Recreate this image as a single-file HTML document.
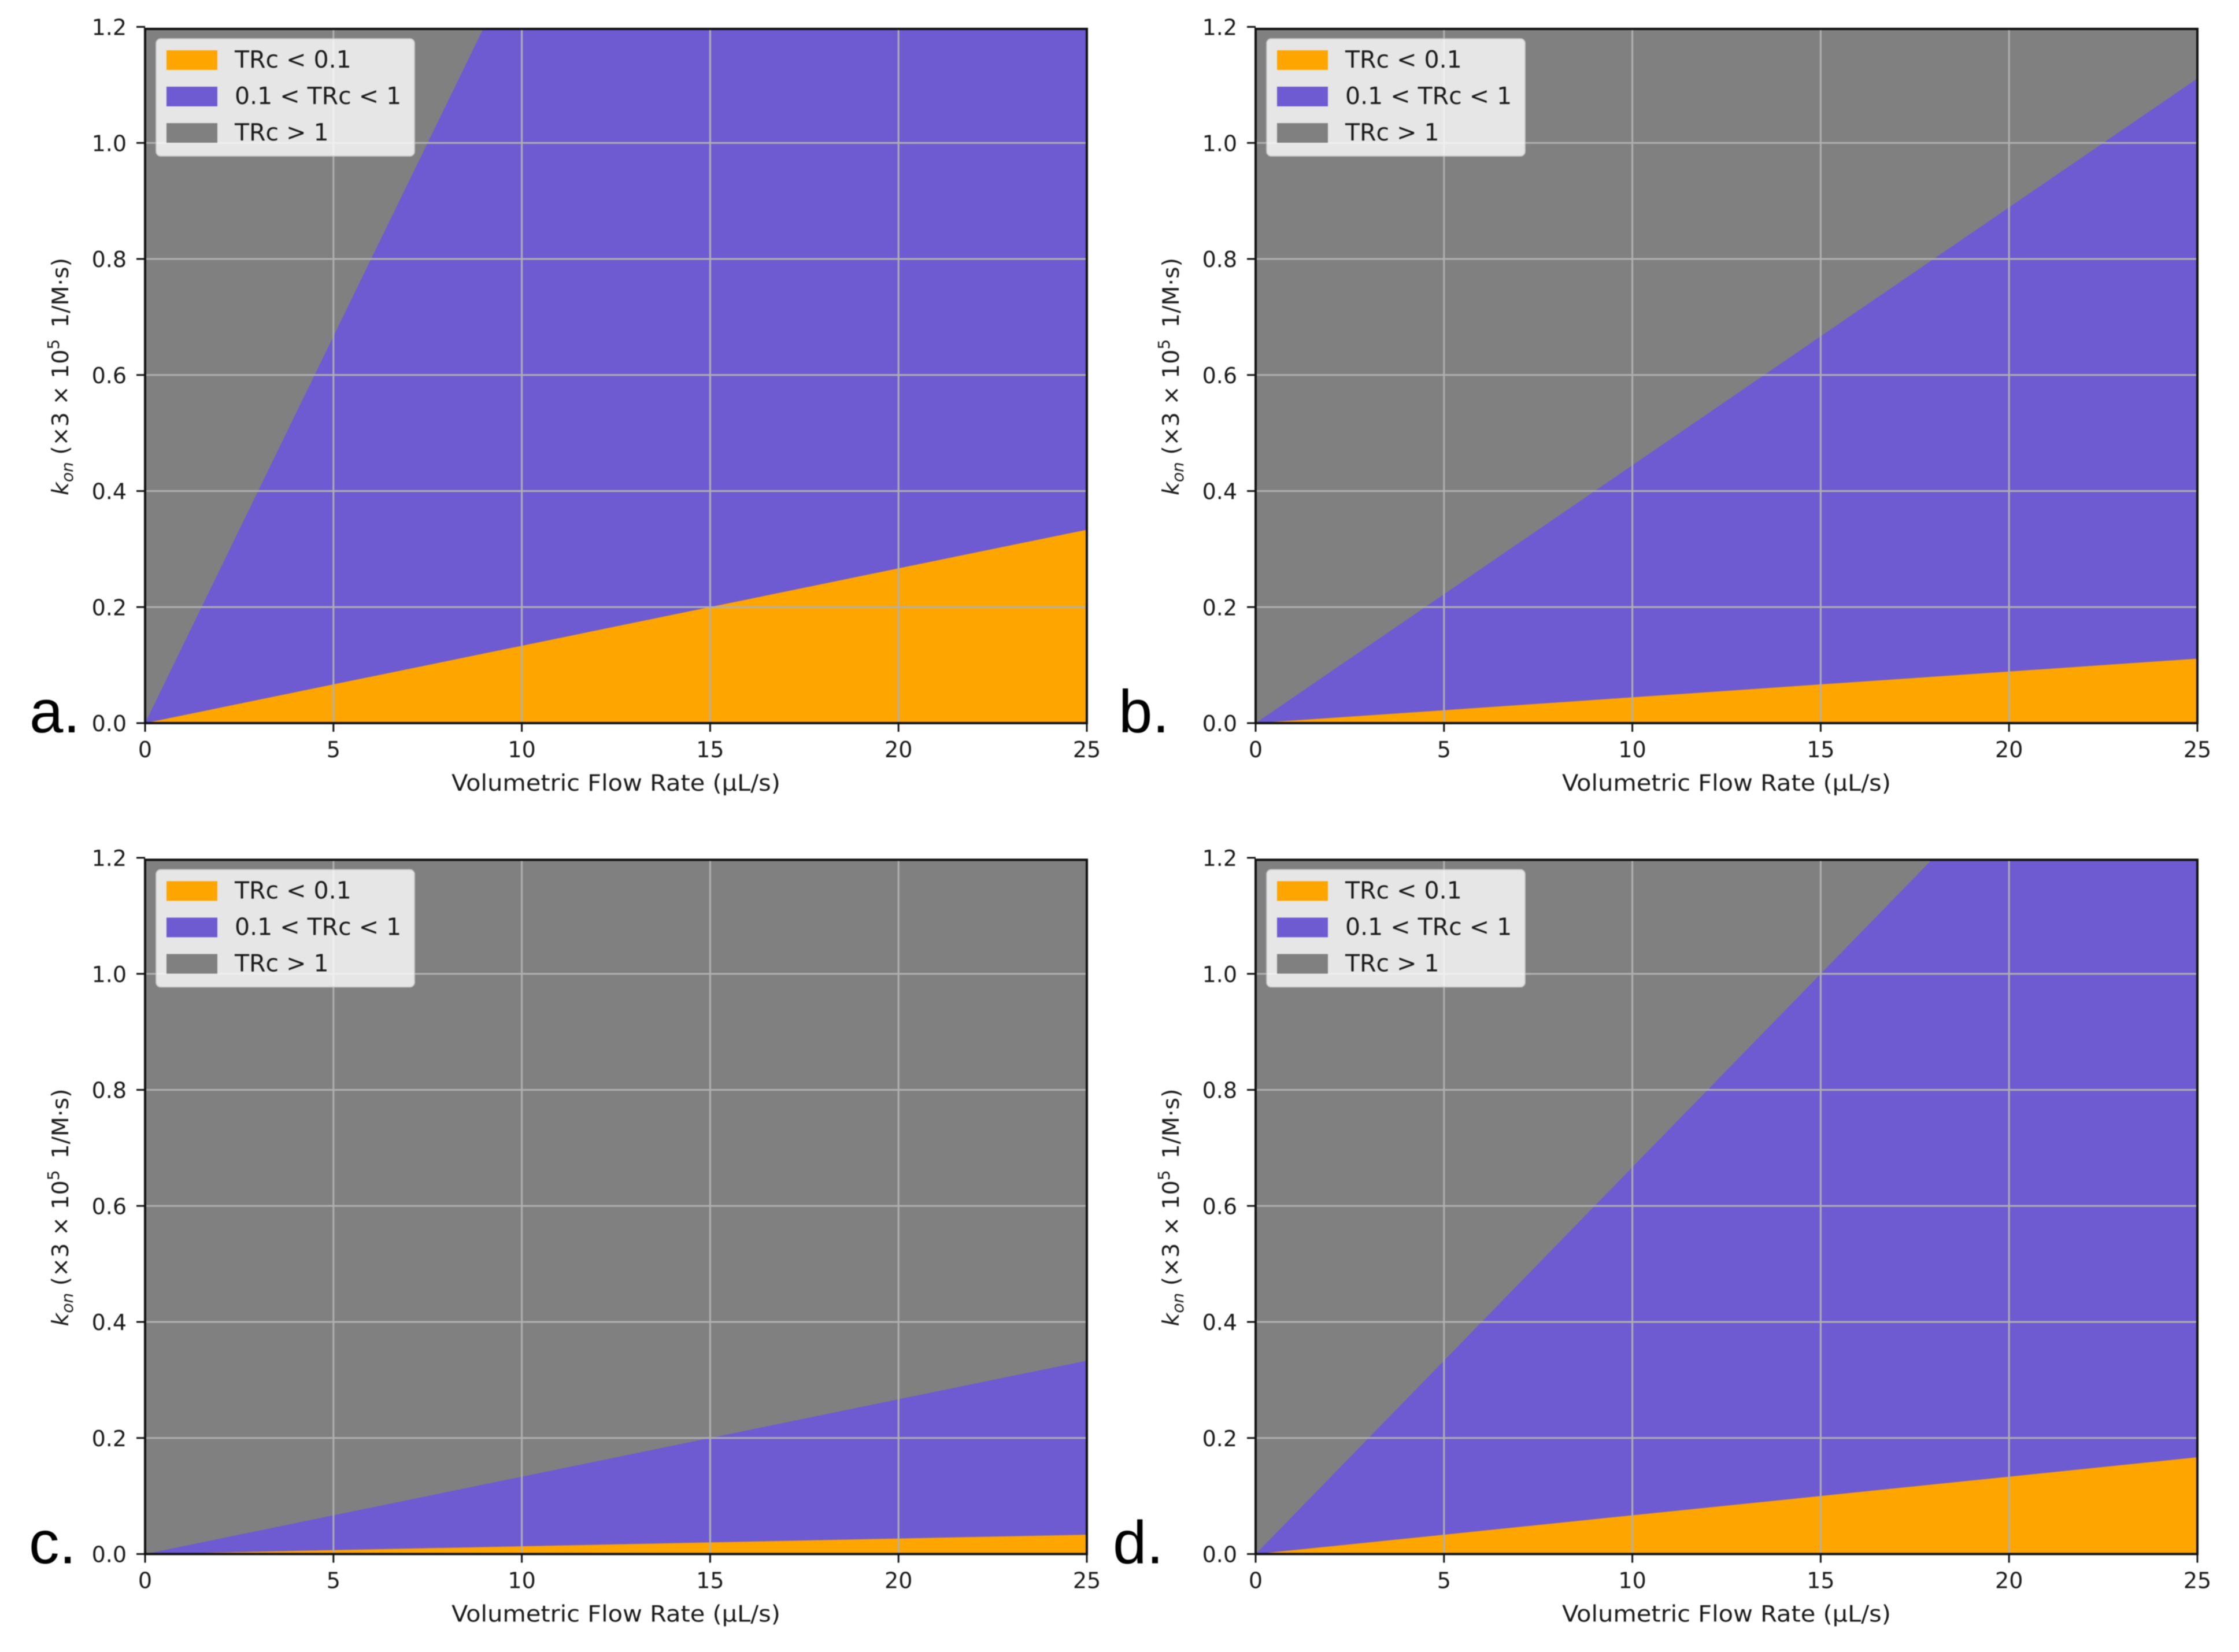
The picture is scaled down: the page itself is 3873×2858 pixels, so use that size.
<!DOCTYPE html>
<html lang="en">
<head>
<meta charset="utf-8">
<title>Transport regime maps: kon versus volumetric flow rate</title>
<style>
  html, body { margin: 0; padding: 0; background: #ffffff; }
  body { width: 3873px; height: 2858px; overflow: hidden; }
  #figure { display: block; filter: blur(0.9px); }
  text { font-family: "DejaVu Sans", "Liberation Sans", sans-serif; fill: #1a1a1a; }
  .panel-letter { font-family: "Liberation Sans", sans-serif; font-size: 105px; fill: #000000; }
</style>
</head>
<body>
<svg id="figure" xmlns="http://www.w3.org/2000/svg" width="3873" height="2858" viewBox="0 0 3873 2858"></svg>
<script>
// ---- chart data ----
const flowRates = [0, 5, 10, 15, 20, 25];
const xTickValues = [0, 5, 10, 15, 20, 25];
const yTickValues = [0, 0.2, 0.4, 0.6, 0.8, 1.0, 1.2];
const yTickLabels = ['0.0', '0.2', '0.4', '0.6', '0.8', '1.0', '1.2'];
const legendLabels = ['TRc < 0.1', '0.1 < TRc < 1', 'TRc > 1'];
const xAxisTitle = 'Volumetric Flow Rate (µL/s)';

const panelALower = [0, 0.0667, 0.1333, 0.2, 0.2667, 0.3333];
const panelAUpper = [0, 0.6667, 1.3333, 2.0, 2.6667, 3.3333];
const panelBLower = [0, 0.0222, 0.0444, 0.0667, 0.0889, 0.1111];
const panelBUpper = [0, 0.2222, 0.4444, 0.6667, 0.8889, 1.1111];
const panelCLower = [0, 0.0067, 0.0133, 0.02, 0.0267, 0.0333];
const panelCUpper = [0, 0.0667, 0.1333, 0.2, 0.2667, 0.3333];
const panelDLower = [0, 0.0333, 0.0667, 0.1, 0.1333, 0.1667];
const panelDUpper = [0, 0.3333, 0.6667, 1.0, 1.3333, 1.6667];

// ---- layout ----
const SVG_NS = 'http://www.w3.org/2000/svg';
const X_MAX = 25, Y_MAX = 1.2;
const PLOT_W = 1629, SCALE_H = 1204.5;
const ORANGE = '#ffa500', SLATE = '#6e5ad1', GRAY = '#808080', GRID = '#b0b0b0';
const figure = document.getElementById('figure');

function mk(parent, tag, attrs, text) {
  const el = document.createElementNS(SVG_NS, tag);
  for (const k in attrs) el.setAttribute(k, attrs[k]);
  if (text !== undefined) el.textContent = text;
  parent.appendChild(el);
  return el;
}

// bottom = pixel row of y=0; frameTop = pixel row of the drawn top spine (sits just under the 1.2 tick)
function drawPanel(id, left, bottom, frameTop, lower, upper, letterX) {
  const xScale = v => left + (v / X_MAX) * PLOT_W;
  const yScale = v => bottom - (v / Y_MAX) * SCALE_H;
  const right = xScale(X_MAX);
  const frameH = bottom - frameTop;

  const panel = mk(figure, 'g', {});
  
  

  const clip = mk(panel, 'clipPath', { id: 'clip-' + id });
  mk(clip, 'rect', { x: left, y: frameTop, width: PLOT_W, height: frameH });

  const plot = mk(panel, 'g', { 'clip-path': 'url(#clip-' + id + ')' });
  
  

  // TRc > 1 region fills whatever remains above the upper boundary
  const grayRegion = mk(plot, 'rect', { x: left, y: frameTop, width: PLOT_W, height: frameH, fill: GRAY });
  
  

  // 0.1 < TRc < 1 between the lower and upper boundaries
  const midPts = [];
  flowRates.forEach((q, i) => midPts.push(xScale(q) + ',' + yScale(upper[i])));
  for (let i = flowRates.length - 1; i >= 0; i--) midPts.push(xScale(flowRates[i]) + ',' + yScale(lower[i]));
  const midRegion = mk(plot, 'polygon', { points: midPts.join(' '), fill: SLATE });
  
  

  // TRc < 0.1 between zero and the lower boundary
  const lowPts = [];
  flowRates.forEach((q, i) => lowPts.push(xScale(q) + ',' + yScale(lower[i])));
  lowPts.push(xScale(flowRates[flowRates.length - 1]) + ',' + yScale(0));
  lowPts.push(xScale(flowRates[0]) + ',' + yScale(0));
  const lowRegion = mk(plot, 'polygon', { points: lowPts.join(' '), fill: ORANGE });
  
  

  // grid
  xTickValues.forEach(v => {
    const line = mk(plot, 'line', { x1: xScale(v), x2: xScale(v), y1: frameTop, y2: bottom, stroke: GRID, 'stroke-width': 3 });
    
    
  });
  yTickValues.forEach(v => {
    const line = mk(plot, 'line', { x1: left, x2: right, y1: yScale(v), y2: yScale(v), stroke: GRID, 'stroke-width': 3 });
    
    
  });

  // ticks and tick labels
  xTickValues.forEach(v => {
    const tick = mk(panel, 'line', { x1: xScale(v), x2: xScale(v), y1: bottom, y2: bottom + 15, stroke: '#111', 'stroke-width': 3 });
    
    
    const label = mk(panel, 'text', { x: xScale(v), y: bottom + 59, 'text-anchor': 'middle', 'font-size': 38 }, String(v));
    
    
  });
  yTickValues.forEach((v, i) => {
    const tick = mk(panel, 'line', { x1: left - 15, x2: left, y1: yScale(v), y2: yScale(v), stroke: '#111', 'stroke-width': 3 });
    
    
    const label = mk(panel, 'text', { x: left - 32, y: yScale(v) + 14, 'text-anchor': 'end', 'font-size': 38 }, yTickLabels[i]);
    
    
  });

  // spines
  const spine = mk(panel, 'rect', { x: left, y: frameTop, width: PLOT_W, height: frameH, fill: 'none', stroke: '#111', 'stroke-width': 4 });
  
  

  // axis titles
  const xTitle = mk(panel, 'text', { x: (left + right) / 2, y: bottom + 117, 'text-anchor': 'middle', 'font-size': 39, textLength: 569, lengthAdjust: 'spacingAndGlyphs' }, xAxisTitle);
  
  

  const yMid = (frameTop + bottom) / 2 + 1;
  const yTitle = mk(panel, 'text', { transform: 'translate(' + (left - 133) + ' ' + yMid + ') rotate(-90)', 'text-anchor': 'middle', 'font-size': 39.5 });
  
  
  mk(yTitle, 'tspan', { 'font-style': 'italic' }, 'k');
  mk(yTitle, 'tspan', { 'font-style': 'italic', 'font-size': 28, dy: 8 }, 'on');
  mk(yTitle, 'tspan', { dy: -8 }, ' (×3 × 10');
  mk(yTitle, 'tspan', { 'font-size': 28, dy: -16 }, '5');
  mk(yTitle, 'tspan', { dy: 16 }, '\u20021/M·s)');

  // legend
  const lx = left + 19, ly = frameTop + 17;
  const legend = mk(panel, 'g', {});
  
  
  mk(legend, 'rect', { x: lx, y: ly, width: 447, height: 203, rx: 8, fill: 'rgba(255,255,255,0.8)', stroke: 'rgba(204,204,204,0.8)', 'stroke-width': 2 });
  const legendColors = [ORANGE, SLATE, GRAY];
  legendLabels.forEach((text, i) => {
    const swatch = mk(legend, 'rect', { x: lx + 18, y: ly + 20 + i * 63, width: 88, height: 34, fill: legendColors[i] });
    
    
    const entry = mk(legend, 'text', { x: lx + 136, y: ly + 50 + i * 63, 'font-size': 41 }, text);
    
    
  });

  // panel letter
  const letter = mk(panel, 'text', { x: letterX, y: bottom + 16, class: 'panel-letter' }, id + '.');
  
  
}

drawPanel('a', 251, 1251, 50, panelALower, panelAUpper, 51);
drawPanel('b', 2172, 1251, 50, panelBLower, panelBUpper, 1935);
drawPanel('c', 251, 2688.5, 1487.5, panelCLower, panelCUpper, 50);
drawPanel('d', 2172, 2688.5, 1487.5, panelDLower, panelDUpper, 1925);
</script>
</body>
</html>
